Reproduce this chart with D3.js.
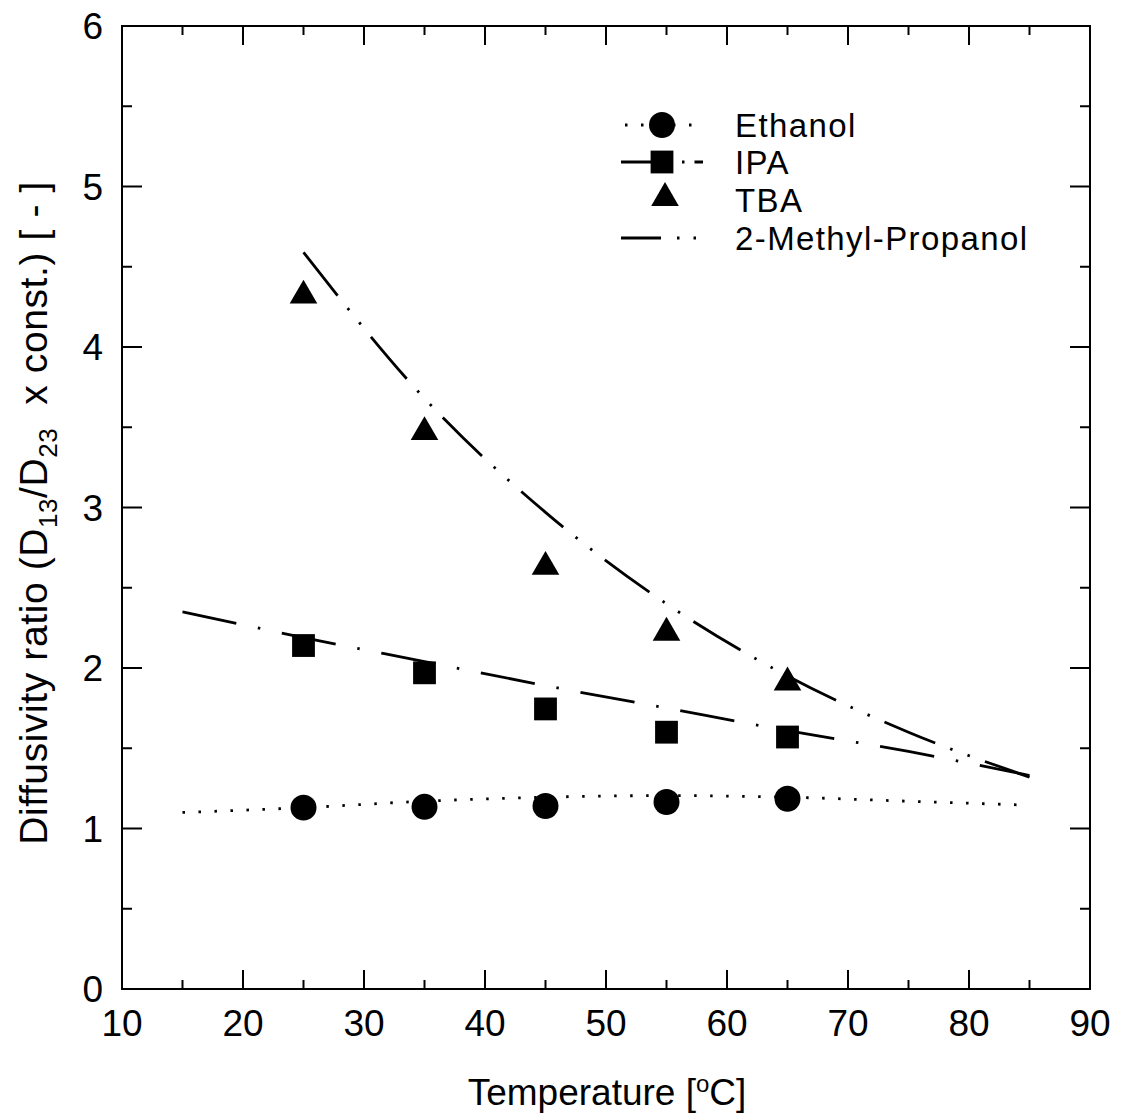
<!DOCTYPE html>
<html>
<head>
<meta charset="utf-8">
<script src="https://cdn.jsdelivr.net/npm/d3@7"></script>
<style>
  body { margin: 0; background: #fff; }
  text { font-family: Arial, "Liberation Sans", sans-serif; fill: #000; }
</style>
</head>
<body>
<script>
var width = 1123,
    height = 1118;

// measured points (temperature in C)
var temps = [25, 35, 45, 55, 65];
var ethanol = [1.13, 1.135, 1.14, 1.165, 1.185];
var ipa = [2.14, 1.97, 1.745, 1.60, 1.57];
var tba = [4.32, 3.47, 2.63, 2.22, 1.91];

// model lines
var ethLineX = [15, 25, 35, 45, 55, 65, 75, 85];
var ethLineY = [1.10, 1.13, 1.17, 1.195, 1.205, 1.195, 1.17, 1.145];
var ipaLineX = [15, 25, 35, 45, 55, 65, 75, 85];
var ipaLineY = [2.35, 2.19, 2.04, 1.89, 1.75, 1.61, 1.48, 1.33];
var mpLineX = [25, 35, 45, 55, 65, 75, 85];
var mpLineY = [4.59, 3.68, 2.97, 2.40, 1.95, 1.60, 1.32];

var xTicks = [10, 20, 30, 40, 50, 60, 70, 80, 90];
var yTicks = [0, 1, 2, 3, 4, 5, 6];

var legendNames = ["Ethanol", "IPA", "TBA", "2-Methyl-Propanol"];

var margin = {left: 122, right: 33, top: 26, bottom: 129};

var svg = d3.select("body").append("svg")
    .attr("width", width)
    .attr("height", height);

var x = d3.scaleLinear().domain([10, 90]).range([margin.left, width - margin.right]);
var y = d3.scaleLinear().domain([0, 6]).range([height - margin.bottom, margin.top]);

var minorX = d3.range(15, 90, 10);
var minorY = d3.range(0.5, 6, 1);

// frame
svg.append("rect")
    .attr("x", x(10)).attr("y", y(6))
    .attr("width", x(90) - x(10)).attr("height", y(0) - y(6))
    .attr("fill", "none").attr("stroke", "#000").attr("stroke-width", 2);

// ticks, all pointing inward
var tickG = svg.append("g").attr("stroke", "#000").attr("stroke-width", 2);
xTicks.slice(1, -1).forEach(function(d) {
  tickG.append("line").attr("x1", x(d)).attr("x2", x(d)).attr("y1", y(0)).attr("y2", y(0) - 19);
  tickG.append("line").attr("x1", x(d)).attr("x2", x(d)).attr("y1", y(6)).attr("y2", y(6) + 19);
});
minorX.forEach(function(d) {
  tickG.append("line").attr("x1", x(d)).attr("x2", x(d)).attr("y1", y(0)).attr("y2", y(0) - 9);
  tickG.append("line").attr("x1", x(d)).attr("x2", x(d)).attr("y1", y(6)).attr("y2", y(6) + 9);
});
yTicks.slice(1, -1).forEach(function(d) {
  tickG.append("line").attr("x1", x(10)).attr("x2", x(10) + 20).attr("y1", y(d)).attr("y2", y(d));
  tickG.append("line").attr("x1", x(90)).attr("x2", x(90) - 20).attr("y1", y(d)).attr("y2", y(d));
});
minorY.forEach(function(d) {
  tickG.append("line").attr("x1", x(10)).attr("x2", x(10) + 10).attr("y1", y(d)).attr("y2", y(d));
  tickG.append("line").attr("x1", x(90)).attr("x2", x(90) - 10).attr("y1", y(d)).attr("y2", y(d));
});

// tick labels
svg.append("g").selectAll("text")
    .data(xTicks)
    .enter().append("text")
      .attr("x", function(d) { return x(d); })
      .attr("y", y(0) + 47)
      .attr("text-anchor", "middle")
      .style("font-size", "37px")
      .text(function(d) { return d; });

svg.append("g").selectAll("text")
    .data(yTicks)
    .enter().append("text")
      .attr("x", x(10) - 19)
      .attr("y", function(d) { return y(d) + 13; })
      .attr("text-anchor", "end")
      .style("font-size", "37px")
      .text(function(d) { return d; });

// axis titles
var xt = svg.append("text")
    .attr("x", 607)
    .attr("y", 1105)
    .attr("text-anchor", "middle")
    .style("font-size", "37px");
xt.append("tspan").text("Temperature [");
xt.append("tspan").attr("dy", -13).style("font-size", "24px").text("o");
xt.append("tspan").attr("dy", 13).text("C]");

var yt = svg.append("text")
    .attr("transform", "translate(47,513) rotate(-90)")
    .attr("text-anchor", "middle")
    .style("font-size", "39px")
    .style("letter-spacing", "0.6px");
yt.append("tspan").text("Diffusivity ratio (D");
yt.append("tspan").attr("dy", 10).style("font-size", "26px").text("13");
yt.append("tspan").attr("dy", -10).text("/D");
yt.append("tspan").attr("dy", 10).style("font-size", "26px").text("23");
yt.append("tspan").attr("dy", -10).text("\u00a0\u00a0x const.) [ - ]");

// lines
var line = d3.line()
    .x(function(d) { return x(d[0]); })
    .y(function(d) { return y(d[1]); })
    .curve(d3.curveMonotoneX);

var lines = [
  {xs: ethLineX, ys: ethLineY, dash: "2.5,13.5"},
  {xs: ipaLineX, ys: ipaLineY, dash: "55,22,2.5,22"},
  {xs: mpLineX, ys: mpLineY, dash: "55,16,2.5,16,2.5,16"}
];

svg.append("g").selectAll("path")
    .data(lines)
    .enter().append("path")
      .attr("d", function(d) { return line(d3.zip(d.xs, d.ys)); })
      .attr("fill", "none")
      .attr("stroke", "#000")
      .attr("stroke-width", 2.8)
      .attr("stroke-dasharray", function(d) { return d.dash; });

// markers
var symCircle = d3.symbol().type(d3.symbolCircle).size(530);
var symSquare = d3.symbol().type(d3.symbolSquare).size(520);
var symTri = d3.symbol().type(d3.symbolTriangle).size(330);

function drawPoints(vals, sym) {
  svg.append("g").selectAll("path")
      .data(d3.zip(temps, vals))
      .enter().append("path")
        .attr("transform", function(d) { return "translate(" + x(d[0]) + "," + y(d[1]) + ")"; })
        .attr("d", sym)
        .attr("fill", "#000");
}
drawPoints(ethanol, symCircle);
drawPoints(ipa, symSquare);
drawPoints(tba, symTri);

// legend
var lg = svg.append("g");
var rowY = [125, 162, 200, 238];
var lx0 = 625, lx1 = 703, mx = 662, tx = 735;

lg.append("line").attr("x1", lx0).attr("x2", lx1).attr("y1", rowY[0]).attr("y2", rowY[0])
    .attr("stroke", "#000").attr("stroke-width", 2.8).attr("stroke-dasharray", "2.5,13.5");
lg.append("path").attr("transform", "translate(" + mx + "," + rowY[0] + ")").attr("d", symCircle);

lg.append("line").attr("x1", lx0 - 4).attr("x2", mx).attr("y1", rowY[1]).attr("y2", rowY[1])
    .attr("stroke", "#000").attr("stroke-width", 2.8);
lg.append("line").attr("x1", mx + 20).attr("x2", lx1).attr("y1", rowY[1]).attr("y2", rowY[1])
    .attr("stroke", "#000").attr("stroke-width", 2.8).attr("stroke-dasharray", "2.5,10,9,20");
lg.append("path").attr("transform", "translate(" + mx + "," + rowY[1] + ")").attr("d", symSquare);

lg.append("path").attr("transform", "translate(" + (mx + 3) + "," + (rowY[2] - 2) + ")").attr("d", symTri);

lg.append("line").attr("x1", lx0 - 4).attr("x2", lx1).attr("y1", rowY[3]).attr("y2", rowY[3])
    .attr("stroke", "#000").attr("stroke-width", 2.8).attr("stroke-dasharray", "40,16,2.5,14,2.5,40");

lg.selectAll("text")
    .data(legendNames)
    .enter().append("text")
      .attr("x", tx)
      .attr("y", function(d, i) { return rowY[i] + 12; })
      .style("font-size", "33px")
      .style("letter-spacing", "1.4px")
      .text(function(d) { return d; });
</script>
</body>
</html>
